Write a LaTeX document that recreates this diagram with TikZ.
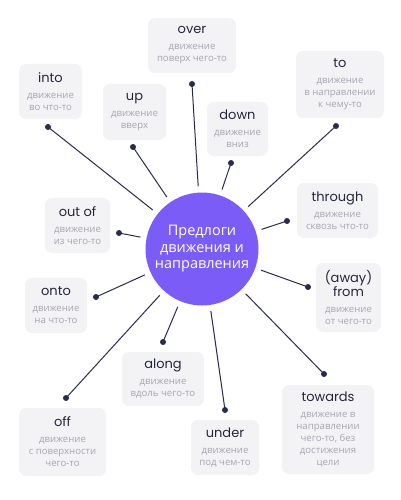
\documentclass[tikz,border=0pt]{standalone}
\usepackage{fontspec}
\setmainfont{Open Sans}
\newfontfamily\titlefont{Poppins}
\definecolor{boxgray}{HTML}{F3F3F6}
\definecolor{navy}{HTML}{2A2B4D}
\definecolor{descgray}{HTML}{A6A6B0}
\definecolor{titledark}{HTML}{25263C}
\definecolor{hubviolet}{HTML}{7B5CF6}
\newcommand{\prepname}[1]{{\color{titledark}\titlefont\fontsize{13}{15}\selectfont #1}}

\begin{document}
\begin{tikzpicture}[x=1pt,y=-1pt,
        prepbox/.style={rectangle,rounded corners=7pt,fill=boxgray,align=center,
                inner sep=0pt,text=descgray,font=\fontsize{9.6}{12}\selectfont},
        hub/.style={circle,fill=hubviolet,minimum size=113pt,inner sep=0pt,
                align=center,text=white,font=\fontsize{14.5}{16.5}\selectfont},
        pin/.style={circle,fill=navy,inner sep=0pt,minimum size=6pt},
        spoke/.style={draw=navy,line width=1pt,shorten >=6pt},
    ]

    \useasboundingbox[fill=white] (0,0) rectangle (400,500);

    % Centre
    \node[hub] (hub) at (202,249) {Предлоги\\движения и\\направления};

    % Boxes
    \node[prepbox,minimum width=88pt,minimum height=55pt] (over) at (192,45.5)
        {\prepname{over}\\[4pt]движение\\поверх чего-то};
    \node[prepbox,minimum width=63pt,minimum height=55pt] (into) at (50.5,91.5)
        {\prepname{into}\\[4pt]движение\\во что-то};
    \node[prepbox,minimum width=63pt,minimum height=56pt] (up) at (134.5,112)
        {\prepname{up}\\[4pt]движение\\вверх};
    \node[prepbox,minimum width=88pt,minimum height=67pt] (to) at (340,84.5)
        {\prepname{to}\\[4pt]движение\\в направлении\\к чему-то};
    \node[prepbox,minimum width=61pt,minimum height=54pt] (down) at (237.5,129)
        {\prepname{down}\\[4pt]движение\\вниз};
    \node[prepbox,minimum width=65pt,minimum height=55pt] (outof) at (77.5,225.5)
        {\prepname{out of}\\[4pt]движение\\из чего-то};
    \node[prepbox,minimum width=81pt,minimum height=55pt] (through) at (337.5,210.5)
        {\prepname{through}\\[4pt]движение\\сквозь что-то};
    \node[prepbox,minimum width=62pt,minimum height=55pt] (onto) at (56,305.5)
        {\prepname{onto}\\[4pt]движение\\на что-то};
    \node[prepbox,minimum width=65pt,minimum height=69pt] (from) at (348.5,297.5)
        {\prepname{(away)}\\[-1pt]\prepname{from}\\[4pt]движение\\от чего-то};
    \node[prepbox,minimum width=82pt,minimum height=54pt] (along) at (163,379)
        {\prepname{along}\\[4pt]движение\\вдоль чего-то};
    \node[prepbox,minimum width=87pt,minimum height=68pt] (off) at (62.5,442)
        {\prepname{off}\\[4pt]движение\\с поверхности\\чего-то};
    \node[prepbox,minimum width=68pt,minimum height=55pt] (under) at (225,447.5)
        {\prepname{under}\\[4pt]движение\\под чем-то};
    \node[prepbox,minimum width=92pt,minimum height=89pt] (towards) at (328,429.5)
        {\prepname{towards}\\[4pt]движение в\\направлении\\чего-то, без\\достижения\\цели};

    % Pins
    \node[pin] (pOver) at (192,84) {};
    \node[pin] (pInto) at (48,127) {};
    \node[pin] (pUp) at (133,147) {};
    \node[pin] (pTo) at (336,126) {};
    \node[pin] (pDown) at (231,163) {};
    \node[pin] (pOutof) at (119,233) {};
    \node[pin] (pThrough) at (287,221) {};
    \node[pin] (pOnto) at (96,297) {};
    \node[pin] (pFrom) at (308,287) {};
    \node[pin] (pAlong) at (163,342) {};
    \node[pin] (pOff) at (66,398) {};
    \node[pin] (pUnder) at (225,410) {};
    \node[pin] (pTowards) at (324,374) {};

    % Spokes
    \foreach \p in {pOver,pInto,pUp,pTo,pDown,pOutof,pThrough,pOnto,pFrom,pAlong,pOff,pUnder,pTowards}
        \draw[spoke] (\p.center) -- (hub);

\end{tikzpicture}
\end{document}
